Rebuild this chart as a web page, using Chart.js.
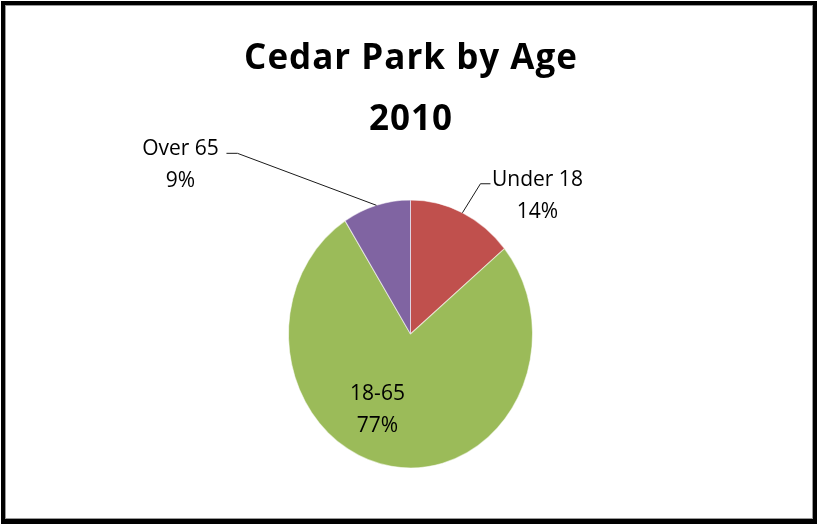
<!DOCTYPE html>
<html>
<head>
<meta charset="utf-8">
<title>Cedar Park by Age 2010</title>
<script src="https://cdn.jsdelivr.net/npm/chart.js@4/dist/chart.umd.min.js"></script>
<style>
  html, body { margin: 0; padding: 0; background: #fff; overflow: hidden; }
  #wrap { position: relative; width: 817px; height: 524px; }
  #chart { position: absolute; left: 0; top: 0; }
  #frame {
    position: absolute; left: 1px; top: 1px; width: 816px; height: 523px;
    box-sizing: border-box; border: 4px solid #000; border-bottom-width: 5px;
    box-shadow: inset 0 0 0 1px #9a9a9a; pointer-events: none;
  }
</style>
</head>
<body>
<div id="wrap">
  <canvas id="chart" width="817" height="524"></canvas>
  <div id="frame"></div>
</div>
<script>
const titleLines = ['Cedar Park by Age', '2010'];
const ageGroups = ['Under 18', '18-65', 'Over 65'];
const sharePct = [14, 77, 9];
const sliceColors = ['#C0504D', '#9BBB59', '#8064A2'];

// the pie is drawn a little taller than wide
const PIE_STRETCH = 134 / 122;

// where each label sits: 'edge' labels hang off a leader line from the slice rim,
// 'inside' labels are placed relative to the pie centre
const labelLayout = [
  { kind: 'edge', elbow: [18, -29], tail: 10, text: [75, -27] },
  { kind: 'inside', text: [-33, 66] },
  { kind: 'edge', elbow: [-139, -52], tail: -11, text: [-196, -50] }
];

const labelFont = '21px "Open Sans"';
const lineGap = 32;

function pieGeometry(chart) {
  const arc = chart.getDatasetMeta(0).data[0];
  const p = arc.getProps(['x', 'y', 'outerRadius']);
  return { cx: p.x, cy: p.y, r: p.outerRadius };
}

const ellipsePie = {
  id: 'ellipsePie',
  beforeDatasetsDraw(chart) {
    const { ctx } = chart;
    const g = pieGeometry(chart);
    ctx.save();
    ctx.translate(g.cx, g.cy);
    ctx.scale(1, PIE_STRETCH);
    ctx.translate(-g.cx, -g.cy);
  },
  afterDatasetsDraw(chart) {
    chart.ctx.restore();
  }
};

const heading = {
  id: 'heading',
  afterDraw(chart) {
    const { ctx } = chart;
    ctx.save();
    ctx.fillStyle = '#000';
    ctx.textAlign = 'center';
    ctx.textBaseline = 'alphabetic';
    ctx.font = 'bold 35px "Open Sans"';
    ctx.letterSpacing = '1px';
    ctx.fillText(titleLines[0], 411, 69);
    ctx.fillText(titleLines[1], 411, 130);
    ctx.restore();
  }
};

const sliceLabels = {
  id: 'sliceLabels',
  afterDatasetsDraw(chart) {
    const { ctx } = chart;
    const g = pieGeometry(chart);
    const arcs = chart.getDatasetMeta(0).data;
    const total = sharePct.reduce((a, b) => a + b, 0);

    ctx.save();
    ctx.font = labelFont;
    ctx.fillStyle = '#000';
    ctx.textAlign = 'center';
    ctx.textBaseline = 'alphabetic';

    arcs.forEach((arc, i) => {
      const lay = labelLayout[i];
      const { startAngle, endAngle } = arc.getProps(['startAngle', 'endAngle']);
      const mid = (startAngle + endAngle) / 2;
      // point on the (stretched) rim at the slice's middle angle
      const ax = g.cx + Math.cos(mid) * g.r;
      const ay = g.cy + Math.sin(mid) * g.r * PIE_STRETCH;
      const lines = [ageGroups[i], Math.round(sharePct[i] / total * 100) + '%'];

      let tx, ty;
      if (lay.kind === 'edge') {
        const ex = ax + lay.elbow[0];
        const ey = ay + lay.elbow[1];
        ctx.beginPath();
        ctx.moveTo(ax, ay);
        ctx.lineTo(ex, ey);
        ctx.lineTo(ex + lay.tail, ey);
        ctx.strokeStyle = '#1a1a1a';
        ctx.lineWidth = 1;
        ctx.stroke();
        tx = ax + lay.text[0];
        ty = ay + lay.text[1];
      } else {
        tx = g.cx + lay.text[0];
        ty = g.cy + lay.text[1];
      }
      lines.forEach((t, k) => ctx.fillText(t, tx, ty + k * lineGap));
    });
    ctx.restore();
  }
};

new Chart(document.getElementById('chart'), {
  type: 'pie',
  data: {
    labels: ageGroups,
    datasets: [{
      data: sharePct,
      backgroundColor: sliceColors,
      borderColor: 'rgba(255,255,255,0.55)',
      borderWidth: 1,
      clip: false
    }]
  },
  options: {
    responsive: false,
    animation: false,
    events: [],
    layout: { padding: { left: 288, right: 284, top: 211.5, bottom: 67.5 } },
    plugins: {
      legend: { display: false },
      tooltip: { enabled: false },
      title: { display: false }
    }
  },
  plugins: [ellipsePie, sliceLabels, heading]
});
</script>
</body>
</html>
